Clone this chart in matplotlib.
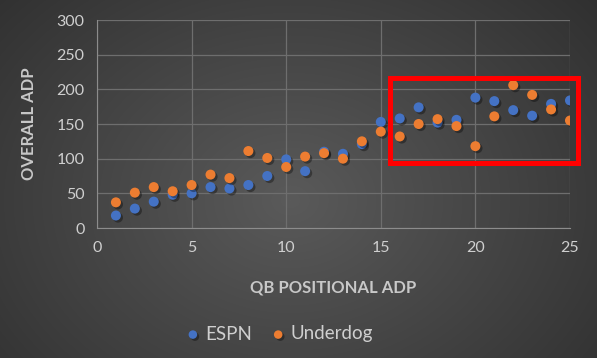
import numpy as np
import matplotlib
matplotlib.use("Agg")
import matplotlib.pyplot as plt
from matplotlib.patches import Rectangle
import matplotlib.patheffects as pe

plt.rcParams['font.family'] = ['Lato', 'DejaVu Sans']

# QB positional ADP rank
qb_rank = list(range(1, 26))
espn_adp = [18, 28, 38, 48, 50, 59, 57, 62, 75, 99, 82, 110, 107, 121, 153,
            158, 174, 152, 156, 188, 183, 170, 162, 179, 184]
underdog_adp = [37, 51, 59, 53, 62, 77, 72, 111, 101, 88, 103, 108, 100, 125, 139,
                132, 150, 157, 147, 118, 161, 206, 192, 171, 155]

fig = plt.figure(figsize=(5.97, 3.58), dpi=100)

# dark radial gradient background
bg = fig.add_axes([0, 0, 1, 1], zorder=0)
yy, xx = np.mgrid[0:358, 0:597]
d = np.sqrt(((xx - 290) / 420.0) ** 2 + ((yy - 200) / 330.0) ** 2)
d = np.clip(d, 0, 1)
lo, hi = 0x2e / 255, 0x5a / 255
shade = hi - (hi - lo) * d
bg.imshow(np.dstack([shade, shade, shade]), aspect='auto', extent=[0, 1, 0, 1])
bg.axis('off')

ax = fig.add_axes([97 / 597, 1 - 228 / 358, 473 / 597, 208 / 358], zorder=1)
ax.set_facecolor('none')

shadow = [pe.SimplePatchShadow(offset=(1.5, -1.5), shadow_rgbFace='black', alpha=0.35), pe.Normal()]
ax.scatter(qb_rank, espn_adp, s=52, color='#4472C4', label='ESPN', zorder=3,
           linewidths=0, path_effects=shadow)
ax.scatter(qb_rank, underdog_adp, s=52, color='#ED7D31', label='Underdog', zorder=4,
           linewidths=0, path_effects=shadow)

ax.set_xlim(0, 25)
ax.set_ylim(0, 300)
ax.set_xticks([0, 5, 10, 15, 20, 25])
ax.set_yticks([0, 50, 100, 150, 200, 250, 300])
ax.grid(True, color='#6e6e6e', linewidth=0.9)
ax.set_axisbelow(True)
for s in ['top', 'right']:
    ax.spines[s].set_visible(False)
for s in ['left', 'bottom']:
    ax.spines[s].set_color('#8c8c8c')
ax.tick_params(length=0, colors='#cfcfcf', labelsize=11.5, pad=9)

ax.set_xlabel('QB POSITIONAL ADP', color='#c8c8c8', fontsize=12, fontweight='bold', labelpad=18)
ax.set_ylabel('OVERALL ADP', color='#c8c8c8', fontsize=12, fontweight='bold', labelpad=14)

# highlight box
ax.add_patch(Rectangle((15.47, 94), 9.93, 122, fill=False, edgecolor='#ff0000',
                       linewidth=3.6, clip_on=False, zorder=5))

leg = fig.legend(loc='center', bbox_to_anchor=(280 / 597, 1 - 334 / 358), ncol=2, frameon=False,
                 fontsize=13.5, handlelength=0.6, handletextpad=0.35, columnspacing=1.1,
                 markerscale=0.85)
for t in leg.get_texts():
    t.set_color('#cfcfcf')

fig.savefig('out.png', dpi=100)
